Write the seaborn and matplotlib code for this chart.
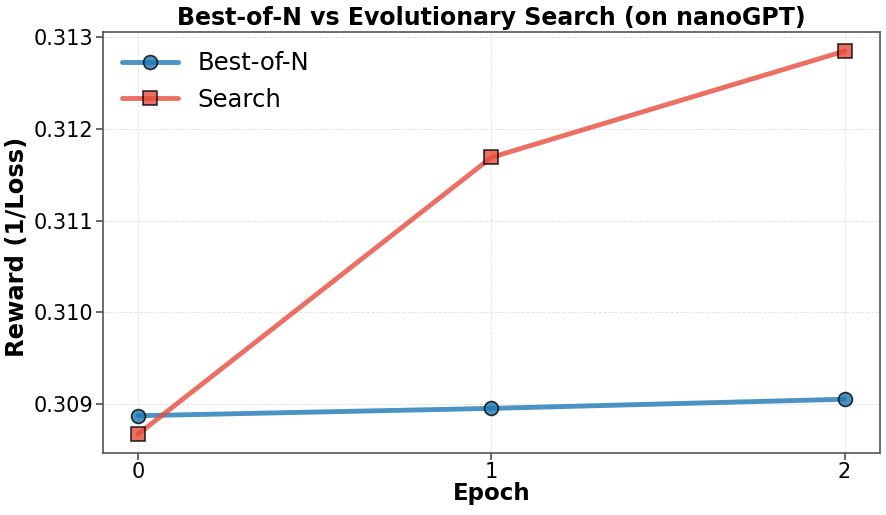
import matplotlib
matplotlib.use("Agg")
import matplotlib.pyplot as plt
import seaborn as sns
import pandas as pd

epochs = [0, 1, 2]
best_of_n = [0.30887, 0.30895, 0.30905]
search = [0.30867, 0.31169, 0.31285]
series_names = ["Best-of-N", "Search"]

sns.set_theme(style="whitegrid")
plt.rcParams['font.family'] = ['DejaVu Sans']
plt.rcParams['text.color'] = 'black'
plt.rcParams['axes.labelcolor'] = 'black'
plt.rcParams['xtick.color'] = 'black'
plt.rcParams['ytick.color'] = 'black'

df = pd.DataFrame({
    "Epoch": epochs * 2,
    "Reward": best_of_n + search,
    "Method": [series_names[0]] * 3 + [series_names[1]] * 3,
})

fig, ax = plt.subplots(figsize=(8.87, 5.15), dpi=100)
palette = {"Best-of-N": "#1f77b4", "Search": "#e74c3c"}
sns.lineplot(data=df, x="Epoch", y="Reward", hue="Method", style="Method",
             markers={"Best-of-N": "o", "Search": "s"}, dashes=False,
             palette=palette, linewidth=3.5, markersize=10, alpha=0.8,
             markeredgecolor="black", markeredgewidth=1.2, ax=ax)

ax.set_facecolor("white")
ax.grid(True, linestyle="--", alpha=0.5, linewidth=0.7, color="#cccccc")
for s in ax.spines.values():
    s.set_visible(True)
    s.set_color("#555555")
    s.set_linewidth(1.2)
ax.set_xticks(epochs)
ax.set_yticks([0.309, 0.310, 0.311, 0.312, 0.313])
ax.set_yticklabels(["0.309", "0.310", "0.311", "0.312", "0.313"])
ax.tick_params(axis="both", labelsize=15, length=5, color="#555555", left=True, bottom=True)
ax.tick_params(axis="x", pad=1)
ax.tick_params(axis="y", pad=2)
ax.set_xlabel("Epoch", fontsize=16.5, fontweight="bold", labelpad=0)
ax.set_ylabel("Reward (1/Loss)", fontsize=17.5, fontweight="bold")
ax.yaxis.set_label_coords(-0.095, 0.49)
ax.set_title("Best-of-N vs Evolutionary Search (on nanoGPT)", fontsize=17,
             fontweight="bold", pad=5)
leg = ax.legend(fontsize=17.5, frameon=False, loc="upper left", handlelength=2.3,
                borderaxespad=0.4)
fig.subplots_adjust(left=0.116, right=0.992, top=0.938, bottom=0.12)
fig.savefig("out.png", dpi=100)
